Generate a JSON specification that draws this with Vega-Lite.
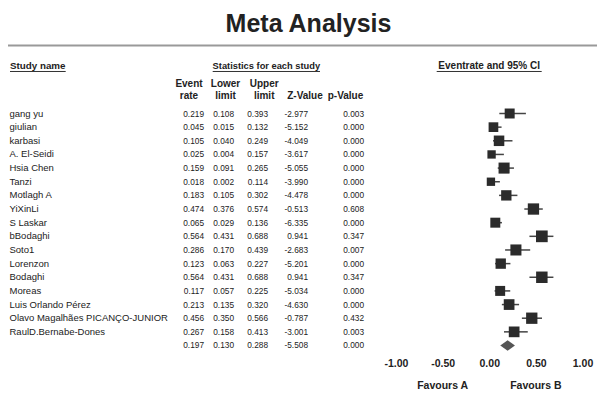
{
  "$schema": "https://vega.github.io/schema/vega-lite/v6.json",
  "width": 597,
  "height": 365,
  "autosize": {"type": "none"},
  "padding": {"top": 40, "left": 0, "right": 0, "bottom": 0},
  "title": {"text": "Meta Analysis", "fontSize": 25, "fontWeight": "bold", "font": "Liberation Sans", "color": "#222222", "anchor": "middle", "offset": 3, "dx": 10},
  "config": {
    "locale": {"number": {"decimal": ".", "thousands": ",", "grouping": [3], "currency": ["$", ""], "minus": "-"}},
    "view": {"stroke": null},
    "text": {"font": "Liberation Sans", "color": "#222222", "baseline": "alphabetic", "dy": 3}
  },
  "datasets": {
    "studies": [
      {"row": 1, "type": "study", "study": "gang yu", "rate": 0.219, "lower": 0.108, "upper": 0.393, "z": -2.977, "p": 0.003, "weight": 5.3},
      {"row": 2, "type": "study", "study": "giulian", "rate": 0.045, "lower": 0.015, "upper": 0.132, "z": -5.152, "p": 0.000, "weight": 5.0},
      {"row": 3, "type": "study", "study": "karbasi", "rate": 0.105, "lower": 0.040, "upper": 0.249, "z": -4.049, "p": 0.000, "weight": 5.9},
      {"row": 4, "type": "study", "study": "A. El-Seidi", "rate": 0.025, "lower": 0.004, "upper": 0.157, "z": -3.617, "p": 0.000, "weight": 3.7},
      {"row": 5, "type": "study", "study": "Hsia Chen", "rate": 0.159, "lower": 0.091, "upper": 0.265, "z": -5.055, "p": 0.000, "weight": 6.5},
      {"row": 6, "type": "study", "study": "\u00a0Tanzi", "rate": 0.018, "lower": 0.002, "upper": 0.114, "z": -3.990, "p": 0.000, "weight": 3.7},
      {"row": 7, "type": "study", "study": "Motlagh A", "rate": 0.183, "lower": 0.105, "upper": 0.302, "z": -4.478, "p": 0.000, "weight": 5.7},
      {"row": 8, "type": "study", "study": "YiXinLi", "rate": 0.474, "lower": 0.376, "upper": 0.574, "z": -0.513, "p": 0.608, "weight": 6.8},
      {"row": 9, "type": "study", "study": "\u00a0S Laskar", "rate": 0.065, "lower": 0.029, "upper": 0.136, "z": -6.335, "p": 0.000, "weight": 5.3},
      {"row": 10, "type": "study", "study": "bBodaghi", "rate": 0.564, "lower": 0.431, "upper": 0.688, "z": 0.941, "p": 0.347, "weight": 7.3},
      {"row": 11, "type": "study", "study": "\u00a0Soto1", "rate": 0.286, "lower": 0.170, "upper": 0.439, "z": -2.683, "p": 0.007, "weight": 6.5},
      {"row": 12, "type": "study", "study": "Lorenzon", "rate": 0.123, "lower": 0.063, "upper": 0.227, "z": -5.201, "p": 0.000, "weight": 5.7},
      {"row": 13, "type": "study", "study": "Bodaghi", "rate": 0.564, "lower": 0.431, "upper": 0.688, "z": 0.941, "p": 0.347, "weight": 7.0},
      {"row": 14, "type": "study", "study": "\u00a0Moreas", "rate": 0.117, "lower": 0.057, "upper": 0.225, "z": -5.034, "p": 0.000, "weight": 5.3},
      {"row": 15, "type": "study", "study": "Luis Orlando Pérez", "rate": 0.213, "lower": 0.135, "upper": 0.320, "z": -4.630, "p": 0.000, "weight": 6.1},
      {"row": 16, "type": "study", "study": "Olavo Magalhães PICANÇO-JUNIOR", "rate": 0.456, "lower": 0.350, "upper": 0.566, "z": -0.787, "p": 0.432, "weight": 6.8},
      {"row": 17, "type": "study", "study": "RaulD.Bernabe-Dones", "rate": 0.267, "lower": 0.158, "upper": 0.413, "z": -3.001, "p": 0.003, "weight": 6.1},
      {"row": 18, "type": "summary", "study": "", "rate": 0.197, "lower": 0.130, "upper": 0.288, "z": -5.508, "p": 0.000, "weight": null}
    ]
  },
  "resolve": {"scale": {"x": "independent"}},
  "layer": [
    {
      "data": {"values": [{}]},
      "mark": {"type": "rule", "color": "#999999", "strokeWidth": 2},
      "encoding": {
        "x": {"datum": 0, "type": "quantitative", "scale": {"domain": [0, 1], "range": [8, 597]}, "axis": null},
        "x2": {"datum": 1},
        "y": {"datum": -3.983, "type": "quantitative", "scale": {"domain": [-4.386, 22.36], "reverse": true, "nice": false, "zero": false}, "axis": null}
      }
    },
    {
      "data": {"values": [{}]},
      "layer": [
        {
          "mark": {"type": "text", "align": "left", "fontWeight": "bold", "fontSize": 9.8},
          "encoding": {
            "x": {"datum": 0, "type": "quantitative", "scale": {"domain": [0, 1], "range": [10, 65.7]}, "axis": null},
            "y": {"datum": -2.481, "type": "quantitative", "scale": {"domain": [-4.386, 22.36], "reverse": true, "nice": false, "zero": false}, "axis": null},
            "text": {"value": "Study name"}
          }
        },
        {
          "mark": {"type": "rule", "color": "#333333", "strokeWidth": 1},
          "encoding": {
            "x": {"datum": 0, "type": "quantitative", "scale": {"domain": [0, 1], "range": [10, 65.7]}, "axis": null},
            "x2": {"datum": 1},
            "y": {"datum": -2.078, "type": "quantitative", "scale": {"domain": [-4.386, 22.36], "reverse": true, "nice": false, "zero": false}, "axis": null}
          }
        }
      ]
    },
    {
      "data": {"values": [{}]},
      "layer": [
        {
          "mark": {"type": "text", "align": "center", "fontWeight": "bold", "fontSize": 9.3},
          "encoding": {
            "x": {"datum": 0.5, "type": "quantitative", "scale": {"domain": [0, 1], "range": [212.7, 320]}, "axis": null},
            "y": {"datum": -2.481, "type": "quantitative", "scale": {"domain": [-4.386, 22.36], "reverse": true, "nice": false, "zero": false}, "axis": null},
            "text": {"value": "Statistics for each study"}
          }
        },
        {
          "mark": {"type": "rule", "color": "#333333", "strokeWidth": 1},
          "encoding": {
            "x": {"datum": 0, "type": "quantitative", "scale": {"domain": [0, 1], "range": [212.7, 320]}, "axis": null},
            "x2": {"datum": 1},
            "y": {"datum": -2.078, "type": "quantitative", "scale": {"domain": [-4.386, 22.36], "reverse": true, "nice": false, "zero": false}, "axis": null}
          }
        }
      ]
    },
    {
      "data": {"values": [{}]},
      "layer": [
        {
          "mark": {"type": "text", "align": "center", "fontWeight": "bold", "fontSize": 10},
          "encoding": {
            "x": {"datum": 0.5, "type": "quantitative", "scale": {"domain": [0, 1], "range": [436.7, 541.7]}, "axis": null},
            "y": {"datum": -2.481, "type": "quantitative", "scale": {"domain": [-4.386, 22.36], "reverse": true, "nice": false, "zero": false}, "axis": null},
            "text": {"value": "Eventrate and 95% CI"}
          }
        },
        {
          "mark": {"type": "rule", "color": "#333333", "strokeWidth": 1},
          "encoding": {
            "x": {"datum": 0, "type": "quantitative", "scale": {"domain": [0, 1], "range": [436.7, 541.7]}, "axis": null},
            "x2": {"datum": 1},
            "y": {"datum": -2.078, "type": "quantitative", "scale": {"domain": [-4.386, 22.36], "reverse": true, "nice": false, "zero": false}, "axis": null}
          }
        }
      ]
    },
    {
      "data": {"name": "studies"},
      "mark": {"type": "text", "align": "left", "fontSize": 9.5},
      "encoding": {
        "x": {"datum": 0, "type": "quantitative", "scale": {"domain": [0, 1], "range": [9.5, 200]}, "axis": null},
        "y": {"field": "row", "type": "quantitative", "scale": {"domain": [-4.386, 22.36], "reverse": true, "nice": false, "zero": false}, "axis": null},
        "text": {"field": "study", "type": "nominal"}
      }
    },
    {
      "layer": [
        {
          "data": {"name": "studies"},
          "mark": {"type": "text", "align": "right", "fontSize": 8.3},
          "encoding": {
            "x": {"datum": 1, "type": "quantitative", "scale": {"domain": [0, 1], "range": [174, 204]}, "axis": null},
            "y": {"field": "row", "type": "quantitative", "scale": {"domain": [-4.386, 22.36], "reverse": true, "nice": false, "zero": false}, "axis": null},
            "text": {"field": "rate", "type": "quantitative", "format": ".3f"}
          }
        },
        {
          "data": {"values": [{}]},
          "mark": {"type": "text", "align": "center", "fontWeight": "bold", "fontSize": 10, "lineHeight": 11.4},
          "encoding": {
            "x": {"datum": 0.5, "type": "quantitative", "scale": {"domain": [0, 1], "range": [174, 204]}, "axis": null},
            "y": {"datum": -1.14, "type": "quantitative", "scale": {"domain": [-4.386, 22.36], "reverse": true, "nice": false, "zero": false}, "axis": null},
            "text": {"value": ["Event", "rate"]}
          }
        }
      ]
    },
    {
      "layer": [
        {
          "data": {"name": "studies"},
          "mark": {"type": "text", "align": "right", "fontSize": 8.3},
          "encoding": {
            "x": {"datum": 1, "type": "quantitative", "scale": {"domain": [0, 1], "range": [217, 234]}, "axis": null},
            "y": {"field": "row", "type": "quantitative", "scale": {"domain": [-4.386, 22.36], "reverse": true, "nice": false, "zero": false}, "axis": null},
            "text": {"field": "lower", "type": "quantitative", "format": ".3f"}
          }
        },
        {
          "data": {"values": [{}]},
          "mark": {"type": "text", "align": "center", "fontWeight": "bold", "fontSize": 10, "lineHeight": 11.4},
          "encoding": {
            "x": {"datum": 0.5, "type": "quantitative", "scale": {"domain": [0, 1], "range": [217, 234]}, "axis": null},
            "y": {"datum": -1.14, "type": "quantitative", "scale": {"domain": [-4.386, 22.36], "reverse": true, "nice": false, "zero": false}, "axis": null},
            "text": {"value": ["Lower", "limit"]}
          }
        }
      ]
    },
    {
      "layer": [
        {
          "data": {"name": "studies"},
          "mark": {"type": "text", "align": "right", "fontSize": 8.3},
          "encoding": {
            "x": {"datum": 1, "type": "quantitative", "scale": {"domain": [0, 1], "range": [260.4, 268]}, "axis": null},
            "y": {"field": "row", "type": "quantitative", "scale": {"domain": [-4.386, 22.36], "reverse": true, "nice": false, "zero": false}, "axis": null},
            "text": {"field": "upper", "type": "quantitative", "format": ".3f"}
          }
        },
        {
          "data": {"values": [{}]},
          "mark": {"type": "text", "align": "center", "fontWeight": "bold", "fontSize": 10, "lineHeight": 11.4},
          "encoding": {
            "x": {"datum": 0.5, "type": "quantitative", "scale": {"domain": [0, 1], "range": [260.4, 268]}, "axis": null},
            "y": {"datum": -1.14, "type": "quantitative", "scale": {"domain": [-4.386, 22.36], "reverse": true, "nice": false, "zero": false}, "axis": null},
            "text": {"value": ["Upper", "limit"]}
          }
        }
      ]
    },
    {
      "layer": [
        {
          "data": {"name": "studies"},
          "mark": {"type": "text", "align": "right", "fontSize": 8.3},
          "encoding": {
            "x": {"datum": 1, "type": "quantitative", "scale": {"domain": [0, 1], "range": [302, 308]}, "axis": null},
            "y": {"field": "row", "type": "quantitative", "scale": {"domain": [-4.386, 22.36], "reverse": true, "nice": false, "zero": false}, "axis": null},
            "text": {"field": "z", "type": "quantitative", "format": ".3f"}
          }
        },
        {
          "data": {"values": [{}]},
          "mark": {"type": "text", "align": "center", "fontWeight": "bold", "fontSize": 10},
          "encoding": {
            "x": {"datum": 0.5, "type": "quantitative", "scale": {"domain": [0, 1], "range": [302, 308]}, "axis": null},
            "y": {"datum": -0.304, "type": "quantitative", "scale": {"domain": [-4.386, 22.36], "reverse": true, "nice": false, "zero": false}, "axis": null},
            "text": {"value": "Z-Value"}
          }
        }
      ]
    },
    {
      "layer": [
        {
          "data": {"name": "studies"},
          "mark": {"type": "text", "align": "right", "fontSize": 8.3},
          "encoding": {
            "x": {"datum": 1, "type": "quantitative", "scale": {"domain": [0, 1], "range": [327, 364]}, "axis": null},
            "y": {"field": "row", "type": "quantitative", "scale": {"domain": [-4.386, 22.36], "reverse": true, "nice": false, "zero": false}, "axis": null},
            "text": {"field": "p", "type": "quantitative", "format": ".3f"}
          }
        },
        {
          "data": {"values": [{}]},
          "mark": {"type": "text", "align": "center", "fontWeight": "bold", "fontSize": 10},
          "encoding": {
            "x": {"datum": 0.5, "type": "quantitative", "scale": {"domain": [0, 1], "range": [327, 364]}, "axis": null},
            "y": {"datum": -0.304, "type": "quantitative", "scale": {"domain": [-4.386, 22.36], "reverse": true, "nice": false, "zero": false}, "axis": null},
            "text": {"value": "p-Value"}
          }
        }
      ]
    },
    {
      "layer": [
        {
          "data": {"name": "studies"},
          "transform": [{"filter": "datum.type === 'study'"}],
          "mark": {"type": "rule", "color": "#444444", "strokeWidth": 1.5},
          "encoding": {
            "x": {
              "field": "lower", "type": "quantitative",
              "scale": {"domain": [-1, 1], "range": [396, 582.5], "nice": false, "zero": false},
              "axis": {"orient": "bottom", "values": [-1, -0.5, 0, 0.5, 1], "format": ".2f", "domain": false, "ticks": false, "tickSize": 0, "grid": false, "labelFont": "Liberation Sans", "labelFontWeight": "bold", "labelFontSize": 10.5, "labelColor": "#222222", "labelPadding": 0, "labelFlush": false, "labelOverlap": false, "offset": -47, "title": null}
            },
            "x2": {"field": "upper"},
            "y": {"field": "row", "type": "quantitative", "scale": {"domain": [-4.386, 22.36], "reverse": true, "nice": false, "zero": false}, "axis": null}
          }
        },
        {
          "data": {"name": "studies"},
          "transform": [{"filter": "datum.type === 'study'"}],
          "mark": {"type": "point", "shape": "square", "filled": true, "color": "#2b2b2b", "opacity": 1},
          "encoding": {
            "x": {"field": "rate", "type": "quantitative"},
            "y": {"field": "row", "type": "quantitative", "scale": {"domain": [-4.386, 22.36], "reverse": true, "nice": false, "zero": false}, "axis": null},
            "size": {"field": "weight", "type": "quantitative", "scale": {"type": "linear", "domain": [0, 10], "range": [0, 188], "zero": true}, "legend": null}
          }
        },
        {
          "data": {"name": "studies"},
          "transform": [{"filter": "datum.type === 'summary'"}],
          "mark": {"type": "point", "shape": "M-1,0L0,-0.7L1,0L0,0.7Z", "filled": true, "color": "#555555", "opacity": 1, "size": 216},
          "encoding": {
            "x": {"field": "rate", "type": "quantitative"},
            "y": {"field": "row", "type": "quantitative", "scale": {"domain": [-4.386, 22.36], "reverse": true, "nice": false, "zero": false}, "axis": null}
          }
        },
        {
          "data": {"values": [{}]},
          "mark": {"type": "text", "align": "center", "fontWeight": "bold", "fontSize": 10.5},
          "encoding": {
            "x": {"datum": -0.5, "type": "quantitative"},
            "y": {"datum": 20.968, "type": "quantitative", "scale": {"domain": [-4.386, 22.36], "reverse": true, "nice": false, "zero": false}, "axis": null},
            "text": {"value": "Favours A"}
          }
        },
        {
          "data": {"values": [{}]},
          "mark": {"type": "text", "align": "center", "fontWeight": "bold", "fontSize": 10.5},
          "encoding": {
            "x": {"datum": 0.5, "type": "quantitative"},
            "y": {"datum": 20.968, "type": "quantitative", "scale": {"domain": [-4.386, 22.36], "reverse": true, "nice": false, "zero": false}, "axis": null},
            "text": {"value": "Favours B"}
          }
        }
      ]
    }
  ]
}
